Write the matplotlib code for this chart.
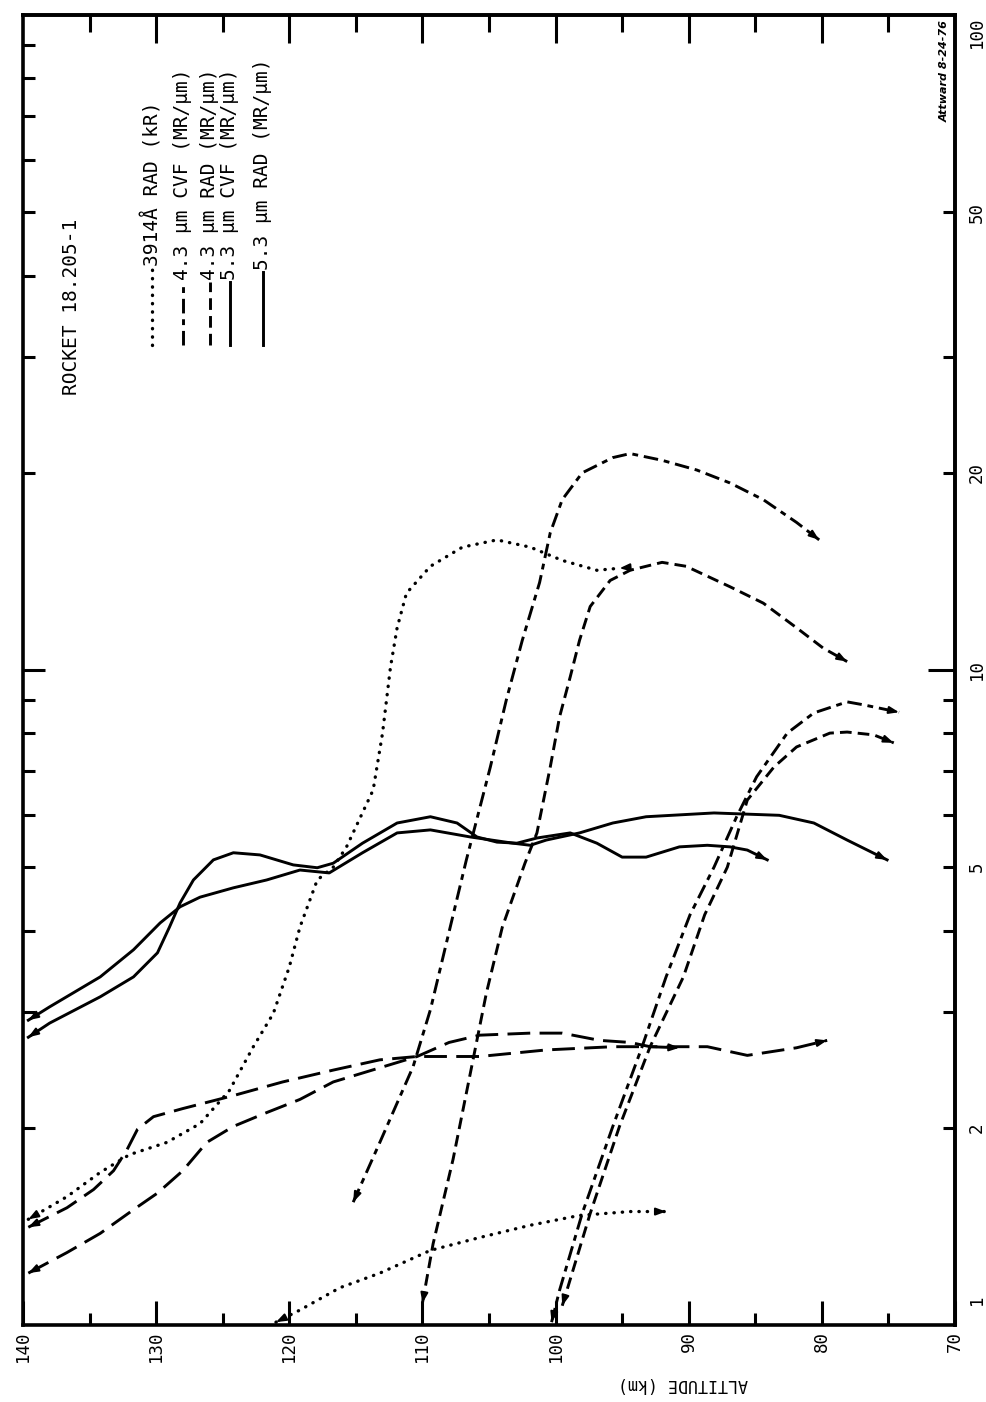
import numpy as np
import matplotlib
matplotlib.use('Agg')
import matplotlib.pyplot as plt
import matplotlib.transforms as mtransforms
from matplotlib.lines import Line2D
from matplotlib.ticker import FixedLocator, NullFormatter

plt.rcParams['font.family'] = ['DejaVu Sans Mono', 'DejaVu Sans']

# ---------------- data: altitude (km) and intensity ----------------
# 3914 A RAD (kR)
alt_3914_a = [139.6, 136.7, 134.2, 132.0, 129.2, 126.7, 124.5, 122.7, 121.2, 120.0, 119.2, 117.9,
              116.7, 115.7, 113.7, 113.0, 112.4, 111.9, 111.2, 109.4, 107.0, 104.4, 101.9, 99.5, 96.9, 95.2]
val_3914_a = [1.45, 1.57, 1.71, 1.82, 1.90, 2.03, 2.28, 2.66, 2.99, 3.52, 4.05, 4.78,
              5.0, 5.37, 6.56, 8.0, 10.1, 11.6, 13.1, 14.4, 15.4, 15.8, 15.4, 14.7, 14.2, 14.3]
alt_3914_b = [121.0, 119.2, 116.2, 113.2, 109.4, 105.7, 101.9, 98.2, 94.4, 91.7]
val_3914_b = [1.01, 1.054, 1.14, 1.20, 1.30, 1.36, 1.42, 1.47, 1.49, 1.49]

# 4.3 um CVF (MR/um)
alt_43cvf_a = [115.2, 113.2, 110.7, 109.4, 108.2, 106.7, 104.9, 103.7, 102.5, 101.2, 100.4, 99.5,
               98.0, 95.7, 94.4, 92.0, 89.4, 86.9, 84.4, 81.9, 80.2]
val_43cvf_a = [1.54, 1.90, 2.48, 3.03, 3.83, 5.13, 7.11, 9.0, 11.1, 13.6, 16.2, 18.2,
               20.0, 21.1, 21.4, 20.9, 20.2, 19.3, 18.2, 16.8, 15.8]
alt_43cvf_b = [100.3, 99.7, 98.0, 95.7, 93.5, 91.7, 89.9, 88.1, 86.4, 84.9, 82.6, 80.6, 78.1, 76.9, 74.2]
val_43cvf_b = [1.01, 1.13, 1.48, 2.01, 2.66, 3.40, 4.23, 5.0, 5.97, 6.87, 8.01, 8.60, 8.94, 8.85, 8.62]

# 4.3 um RAD (MR/um)
alt_43rad_a = [110.0, 109.2, 107.7, 106.2, 105.2, 104.0, 102.3, 101.4, 100.4, 99.7, 98.9, 98.2, 97.4,
               95.9, 94.4, 92.0, 90.2, 86.9, 84.4, 81.9, 79.9, 78.1]
val_43rad_a = [1.08, 1.33, 1.79, 2.54, 3.21, 4.05, 5.07, 5.64, 7.11, 8.48, 9.76, 11.1, 12.5,
               13.7, 14.2, 14.6, 14.4, 13.4, 12.65, 11.6, 10.8, 10.3]
alt_43rad_b = [99.5, 97.4, 95.2, 92.9, 90.4, 88.8, 87.1, 85.6, 83.6, 81.9, 79.4, 78.1, 76.1, 74.6]
val_43rad_b = [1.07, 1.48, 2.01, 2.66, 3.40, 4.23, 5.0, 6.33, 7.11, 7.63, 8.01, 8.04, 7.96, 7.74]

# 5.3 um CVF (MR/um)
alt_53cvf_a = [139.6, 138.0, 134.2, 131.7, 129.9, 129.0, 128.2, 127.2, 125.7, 124.2, 122.2, 119.7, 117.9,
               116.7, 114.5, 111.9, 109.4, 107.4, 105.9, 104.4, 102.9, 101.4, 98.9, 96.9, 95.0, 93.2,
               90.7, 88.6, 86.9, 85.6, 84.1]
val_53cvf_a = [2.75, 2.89, 3.17, 3.40, 3.70, 4.05, 4.41, 4.78, 5.13, 5.26, 5.22, 5.04, 4.99,
               5.07, 5.44, 5.84, 5.97, 5.84, 5.56, 5.46, 5.44, 5.54, 5.64, 5.44, 5.18, 5.18,
               5.37, 5.40, 5.37, 5.31, 5.13]
alt_53cvf_b = [139.6, 138.0, 134.2, 131.7, 129.7, 128.2, 126.7, 124.2, 121.7, 119.2, 117.0, 114.5, 111.9,
               109.4, 106.4, 103.2, 101.9, 100.7, 98.2, 95.7, 93.2, 88.1, 83.2, 80.6, 78.1, 75.1]
val_53cvf_b = [2.92, 3.06, 3.40, 3.74, 4.11, 4.35, 4.50, 4.65, 4.78, 4.95, 4.90, 5.26, 5.64,
               5.70, 5.56, 5.44, 5.40, 5.50, 5.64, 5.84, 5.97, 6.05, 6.0, 5.84, 5.50, 5.13]

# 5.3 um RAD (MR/um)
alt_53rad_a = [139.6, 136.7, 134.7, 133.2, 132.2, 131.4, 130.2, 128.0, 124.2, 120.5, 116.7, 113.2,
               110.4, 105.7, 100.7, 95.7, 92.9, 90.7]
val_53rad_a = [1.41, 1.51, 1.61, 1.72, 1.85, 1.99, 2.08, 2.14, 2.24, 2.35, 2.45, 2.54,
               2.57, 2.57, 2.63, 2.66, 2.66, 2.65]
alt_53rad_b = [139.6, 136.7, 134.2, 131.7, 129.9, 128.0, 126.2, 124.2, 121.7, 119.2, 116.7, 113.2,
               110.4, 108.0, 105.7, 101.9, 99.5, 96.7, 94.4, 92.9, 88.6, 85.6, 81.9, 79.6]
val_53rad_b = [1.20, 1.29, 1.38, 1.50, 1.59, 1.72, 1.90, 2.01, 2.11, 2.21, 2.35, 2.47,
               2.57, 2.70, 2.77, 2.79, 2.79, 2.72, 2.70, 2.66, 2.66, 2.58, 2.65, 2.72]

alt_ticks = [140, 130, 120, 110, 100, 90, 80, 70]
val_tick_labels = [1, 2, 5, 10, 20, 50, 100]
legend_labels = ['3914Å RAD (kR)', '4.3 µm CVF (MR/µm)', '4.3 µm RAD (MR/µm)',
                 '5.3 µm CVF (MR/µm)', '5.3 µm RAD (MR/µm)']
title_text = 'ROCKET 18.205-1'

# ---------------- styles ----------------
LW = 2.1
ST_DOT = dict(ls=(0, (0.1, 2.4)), lw=2.4, dash_capstyle='round')
ST_DASHDOT = dict(ls=(0, (5.0, 2.0, 2.0, 2.0)), lw=LW)
ST_DASH = dict(ls=(0, (4.0, 2.1)), lw=LW)
ST_SOLID = dict(ls='-', lw=LW)
ST_LONG = dict(ls=(0, (7.8, 3.2)), lw=LW)

W, H = 987, 1402
fig = plt.figure(figsize=(W / 100, H / 100), dpi=100)
fig.patch.set_facecolor('white')
x0, x1, y0, y1 = 23, 955, 15, 1325
ax = fig.add_axes([x0 / W, 1 - y1 / H, (x1 - x0) / W, (y1 - y0) / H])
ax.set_xlim(140, 70)
ax.set_yscale('log')
ax.set_ylim(1, 100)

for s in ax.spines.values():
    s.set_linewidth(2.6)

PX = 0.72  # points per pixel
# bottom ticks
ax.xaxis.set_major_locator(FixedLocator(list(range(70, 141, 10))))
ax.xaxis.set_minor_locator(FixedLocator(list(range(75, 140, 10))))
ax.tick_params(axis='x', which='major', direction='in', length=24 * PX, width=2.2,
               bottom=True, top=False, labelbottom=False)
ax.tick_params(axis='x', which='minor', direction='in', length=12 * PX, width=2.2,
               bottom=True, top=False)
# left ticks
ax.yaxis.set_major_locator(FixedLocator([10]))
ax.yaxis.set_minor_locator(FixedLocator([2, 3, 4, 5, 6, 7, 8, 9, 20, 30, 40, 50, 60, 70, 80, 90]))
ax.yaxis.set_minor_formatter(NullFormatter())
ax.tick_params(axis='y', which='major', direction='in', length=22 * PX, width=2.2,
               left=True, right=False, labelleft=False)
ax.tick_params(axis='y', which='minor', direction='in', length=12 * PX, width=2.2,
               left=True, right=False)

# top ticks
sec = ax.secondary_xaxis('top')
sec.xaxis.set_major_locator(FixedLocator(list(range(80, 140, 10))))
sec.xaxis.set_minor_locator(FixedLocator(list(range(75, 140, 10))))
sec.tick_params(axis='x', which='major', direction='in', length=28 * PX, width=2.2, labeltop=False)
sec.tick_params(axis='x', which='minor', direction='in', length=17 * PX, width=2.2)
sec.spines['top'].set_linewidth(2.6)

# right ticks
secy = ax.secondary_yaxis('right')
secy.yaxis.set_major_locator(FixedLocator([10]))
secy.yaxis.set_minor_locator(FixedLocator([2, 3, 4, 5, 6, 7, 8, 9, 20, 30, 50]))
secy.yaxis.set_minor_formatter(NullFormatter())
secy.tick_params(axis='y', which='major', direction='in', length=27 * PX, width=2.2, labelright=False)
secy.tick_params(axis='y', which='minor', direction='in', length=12 * PX, width=2.2)
secy.spines['right'].set_linewidth(2.6)

# curves
curves = [
    (alt_3914_a, val_3914_a, ST_DOT),
    (alt_3914_b, val_3914_b, ST_DOT),
    (alt_43cvf_a, val_43cvf_a, ST_DASHDOT),
    (alt_43cvf_b, val_43cvf_b, ST_DASHDOT),
    (alt_43rad_a, val_43rad_a, ST_DASH),
    (alt_43rad_b, val_43rad_b, ST_DASH),
    (alt_53cvf_a, val_53cvf_a, ST_SOLID),
    (alt_53cvf_b, val_53cvf_b, ST_SOLID),
    (alt_53rad_a, val_53rad_a, ST_LONG),
    (alt_53rad_b, val_53rad_b, ST_LONG),
]
for xs, ys, st in curves:
    ax.plot(xs, ys, color='black', **st)


def arrowhead(xs, ys, at_end=True, reverse=False, size=9):
    if at_end:
        p1, p0 = (xs[-1], ys[-1]), (xs[-2], ys[-2])
    else:
        p1, p0 = (xs[0], ys[0]), (xs[1], ys[1])
    d1 = ax.transData.transform(p1)
    d0 = ax.transData.transform(p0)
    v = d1 - d0
    v = v / np.hypot(*v)
    if reverse:
        v = -v
    ax.annotate('', xy=p1, xycoords='data', xytext=(-v[0] * size, -v[1] * size),
                textcoords='offset pixels',
                arrowprops=dict(arrowstyle='-|>,head_length=0.6,head_width=0.22',
                                mutation_scale=10, color='black', lw=1.4,
                                shrinkA=0, shrinkB=0), annotation_clip=False)


for xs, ys, st in curves:
    arrowhead(xs, ys, at_end=False)
    arrowhead(xs, ys, at_end=True, reverse=(xs is alt_3914_a))

# tick labels
tr_x = mtransforms.blended_transform_factory(ax.transData, ax.transAxes)
for a in alt_ticks:
    ax.annotate(str(a), xy=(a, 0), xycoords=tr_x, xytext=(0, -6), textcoords='offset pixels',
                rotation=90, ha='center', va='top', fontsize=12.5, annotation_clip=False)
tr_y = mtransforms.blended_transform_factory(ax.transAxes, ax.transData)
for v in val_tick_labels:
    va = 'center'
    off = 0
    if v == 100:
        va, off = 'top', -2
    if v == 1:
        va, off = 'bottom', 20
    ax.annotate(str(v), xy=(1, v), xycoords=tr_y, xytext=(13, off), textcoords='offset pixels',
                rotation=90, ha='left', va=va, fontsize=12.5, annotation_clip=False)

fig.text(683 / W, 1 - 1384 / H, 'ALTITUDE (km)', rotation=180, ha='center', va='center', fontsize=12)

# title and legend
fig.text(72 / W, 1 - 395 / H, title_text, rotation=90, rotation_mode='anchor',
         ha='left', va='center', fontsize=14)
leg_x = [152, 183, 210, 230, 263]
leg_styles = [ST_DOT, ST_DASHDOT, ST_DASH, ST_SOLID, ST_SOLID]
leg_text_start = [266, 280, 280, 280, 270]
for lx, st, lab, ts in zip(leg_x, leg_styles, legend_labels, leg_text_start):
    fig.add_artist(Line2D([lx / W, lx / W], [1 - 345 / H, 1 - (ts + 2) / H],
                          transform=fig.transFigure, color='black', **st))
    fig.text(lx / W, 1 - ts / H, lab, rotation=90, rotation_mode='anchor',
             ha='left', va='center', fontsize=14)

fig.text(945 / W, 1 - 20 / H, 'Attward 8-24-76', rotation=90, rotation_mode='anchor',
         ha='right', va='center', fontsize=8, style='italic', fontweight='bold',
         family='DejaVu Sans')

fig.savefig('out.png', dpi=100, facecolor='white')
